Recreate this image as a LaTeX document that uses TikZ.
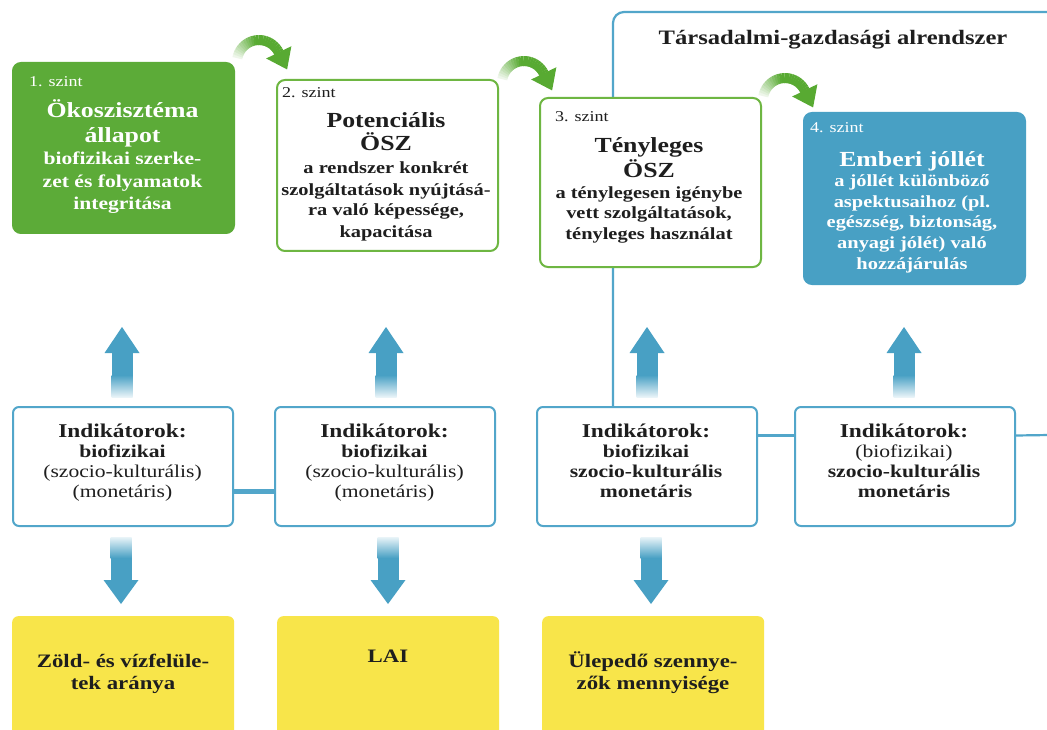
\documentclass[tikz,border=0pt]{standalone}
\usepackage{fontspec}
\setmainfont[FakeStretch=1.2]{Liberation Serif}
\newcommand\fsz[2]{\fontsize{#1pt}{#2pt}\selectfont}
\definecolor{gfill}{RGB}{92,171,56}
\definecolor{gline}{RGB}{110,182,66}
\definecolor{garr}{RGB}{88,170,50}
\definecolor{bfill}{RGB}{72,160,196}
\definecolor{bline}{RGB}{82,166,202}
\definecolor{ablue}{RGB}{72,160,196}
\definecolor{yfill}{RGB}{248,229,74}
\definecolor{tx}{RGB}{30,30,30}
\begin{document}
\begin{tikzpicture}[x=1pt,y=-1pt,
  lvlbox/.style={rounded corners=8pt, line width=2pt, inner sep=0pt, anchor=north west},
  lvlone/.style={lvlbox, fill=gfill, draw=gfill},
  lvlmid/.style={lvlbox, fill=white, draw=gline},
  lvlfour/.style={lvlbox, fill=bfill, draw=bfill},
  indbox/.style={rounded corners=6pt, line width=2pt, draw=bline, fill=white, inner sep=0pt,
    minimum width=220pt, minimum height=119pt, anchor=north west},
  ybox/.style={fill=yfill, rounded corners=6pt, inner sep=0pt, minimum width=222pt,
    minimum height=140pt, anchor=north west},
  szint/.style={anchor=base west, inner sep=0pt, font=\fsz{15}{18}},
  headtxt/.style={anchor=base, align=center, inner sep=0pt, font=\bfseries\fsz{21.5}{25}},
  bodytxt/.style={anchor=base, align=center, inner sep=0pt, font=\bfseries\fsz{17}{21}},
  indtxt/.style={anchor=base, align=center, inner sep=0pt, text=tx, font=\fsz{18}{20}},
  ytxt/.style={anchor=base, align=center, inner sep=0pt, text=tx, font=\bfseries\fsz{19}{22}},
  blueline/.style={draw=bline, line width=2.2pt},
  garrow/.pic={
    \foreach \i in {0,...,23}{
      \pgfmathsetmacro\pct{min(100,10+\i*8)}
      \draw[line width=10pt, draw=garr!\pct!white]
        (190+\i*6:22) arc[start angle=190+\i*6, end angle=197+\i*6, radius=22];
    }
    \fill[garr] (32.37,-15.77) -- (28.10,7.44) -- (7.19,-3.51) -- cycle;
  },
  uparrow/.pic={
    \fill[ablue] (-17.5,0) -- (0,-26) -- (17.5,0) -- cycle;
    \fill[ablue] (-10.5,-0.5) rectangle (10.5,22.5);
    \shade[top color=ablue, bottom color=ablue!12] (-10.5,22) rectangle (10.5,44);
  },
  downarrow/.pic={
    \fill[ablue] (-17.5,0) -- (0,24) -- (17.5,0) -- cycle;
    \fill[ablue] (-10.5,0.5) rectangle (10.5,-22.5);
    \shade[top color=ablue!12, bottom color=ablue] (-10.5,-43) rectangle (10.5,-22);
  }
]
\useasboundingbox (0,0) rectangle (1047,730);
\fill[white] (0,0) rectangle (1047,730);

% frame of the socio-economic subsystem
\coordinate (frameTR) at (1050,12);
\coordinate (redge) at (1050,435);

% indicator boxes
\node[indbox] (iA) at (12,406) {};
\node[indbox] (iB) at (274,406) {};
\node[indbox] (iC) at (536,406) {};
\node[indbox] (iD) at (794,406) {};

\draw[blueline, rounded corners=11pt] ([xshift=77pt]iC.north west) |- (frameTR);
\draw[draw=bline, line width=5pt] ([yshift=-25pt]iA.east) -- ([yshift=-25pt]iB.west);
\draw[blueline] ([yshift=31pt]iC.east) -- ([yshift=31pt]iD.west);
\draw[blueline] ([yshift=31pt]iD.east) -- (redge);

\node[anchor=base, inner sep=0pt, text=tx, font=\bfseries\fsz{20.5}{24}] (title) at (833,45) {Társadalmi-gazdasági alrendszer};

% level boxes
\node[lvlone, minimum width=221pt, minimum height=170pt] (b1) at (12,62) {};
\node[lvlmid, minimum width=221pt, minimum height=171pt] (b2) at (276,79) {};
\node[lvlmid, minimum width=221pt, minimum height=169pt] (b3) at (539,97) {};
\node[lvlfour, minimum width=221pt, minimum height=171pt] (b4) at (803,112) {};

% (multi-line nodes: base anchor = baseline of the last line)
\node[szint, text=white] (s1) at (29,87) {1. szint};
\node[headtxt, text=white] (h1) at (122.5,143) {Ökoszisztéma\\állapot};
\node[bodytxt, text=white, font=\bfseries\fsz{18}{22.5}] (d1) at (122.5,210) {biofizikai szerke-\\zet és folyamatok\\integritása};

\node[szint, text=tx] (s2) at (282,98) {2. szint};
\node[headtxt, text=tx, font=\bfseries\fsz{21.5}{23}] (h2) at (386,150.5) {Potenciális\\ÖSZ};
\node[bodytxt, text=tx] (d2) at (386,237) {a rendszer konkrét\\szolgáltatások nyújtásá-\\ra való képessége,\\kapacitása};

\node[szint, text=tx] (s3) at (555,121.5) {3. szint};
\node[headtxt, text=tx, font=\bfseries\fsz{21.5}{25.5}] (h3) at (649,178) {Tényleges\\ÖSZ};
\node[bodytxt, text=tx, font=\bfseries\fsz{17}{20.5}] (d3) at (649,239.5) {a ténylegesen igénybe\\vett szolgáltatások,\\tényleges használat};

\node[szint, text=white] (s4) at (810,132.5) {4. szint};
\node[headtxt, text=white] (h4) at (912,166.5) {Emberi jóllét};
\node[bodytxt, text=white, font=\bfseries\fsz{17}{20.8}] (d4) at (912,269.5) {a jóllét különböző\\aspektusaihoz (pl.\\egészség, biztonság,\\anyagi jólét) való\\hozzájárulás};

% curved green arrows
\pic at (259,62) {garrow};
\pic at (524,83) {garrow};
\pic at (785,100) {garrow};

% indicator texts
\node[indtxt] (tA) at (122.5,497) {{\bfseries\fsz{19.5}{20}Indikátorok:}\\{\bfseries biofizikai}\\(szocio-kulturális)\\(monetáris)};
\node[indtxt] (tB) at (384.5,497) {{\bfseries\fsz{19.5}{20}Indikátorok:}\\{\bfseries biofizikai}\\(szocio-kulturális)\\(monetáris)};
\node[indtxt, font=\bfseries\fsz{18}{20}] (tC) at (646,497) {{\fsz{19.5}{20}Indikátorok:}\\biofizikai\\szocio-kulturális\\monetáris};
\node[indtxt] (tD) at (904,497) {{\bfseries\fsz{19.5}{20}Indikátorok:}\\(biofizikai)\\{\bfseries szocio-kulturális}\\{\bfseries monetáris}};

% blue arrows
\pic at (122,353) {uparrow};
\pic at (386,353) {uparrow};
\pic at (647,353) {uparrow};
\pic at (904,353) {uparrow};
\pic at (121,580) {downarrow};
\pic at (388,580) {downarrow};
\pic at (651,580) {downarrow};

% yellow example boxes
\node[ybox] (yA) at (12,616) {};
\node[ybox] (yB) at (277,616) {};
\node[ybox] (yC) at (542,616) {};
\node[ytxt] (yAt) at (123,689) {Zöld- és vízfelüle-\\tek aránya};
\node[ytxt] (yBt) at (388,662) {LAI};
\node[ytxt] (yCt) at (653,689) {Ülepedő szennye-\\zők mennyisége};
\end{tikzpicture}
\end{document}
